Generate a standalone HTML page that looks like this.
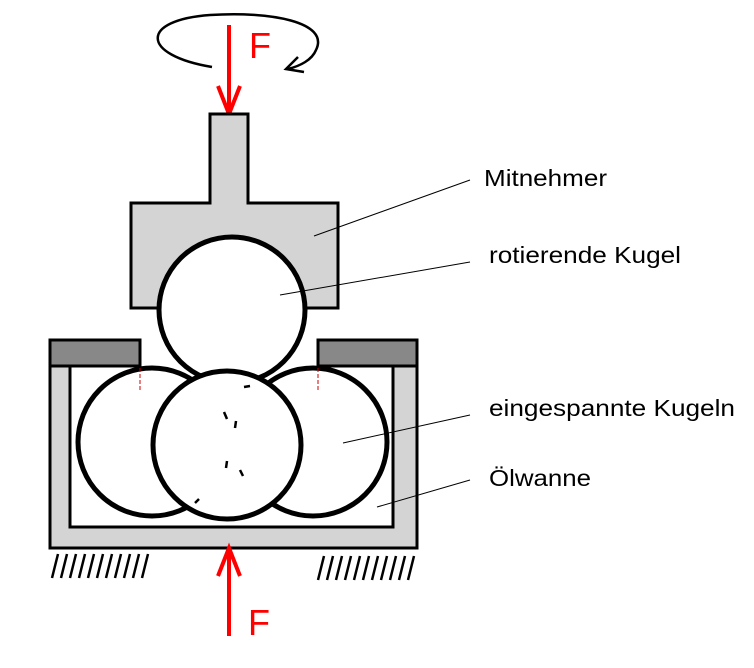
<!DOCTYPE html>
<html><head><style>body{margin:0;background:#fff}svg{display:block}</style></head>
<body>
<svg width="754" height="668" viewBox="0 0 754 668" xmlns="http://www.w3.org/2000/svg" font-family="Liberation Sans, sans-serif">
<!-- rotation -->
<path d="M212,67 C140,55 140,20 210,15 C270,11 330,22 316,50 C312,60 300,66 288,69" fill="none" stroke="#000" stroke-width="2.5"/>
<path d="M298,57 L286,69 L304,72" fill="none" stroke="#000" stroke-width="2.5"/>
<!-- top arrow -->
<line x1="229" y1="25" x2="229" y2="112" stroke="#f00" stroke-width="4"/>
<path d="M218,86 L229,114 L240,86" fill="none" stroke="#f00" stroke-width="4"/>
<text x="249" y="58" font-size="36" fill="#f00">F</text>
<!-- Mitnehmer -->
<path d="M210,114 L248,114 L248,203 L338,203 L338,308 L131,308 L131,203 L210,203 Z" fill="#d4d4d4" stroke="#000" stroke-width="3"/>
<!-- pan (U shape) -->
<path d="M50,340 L70,340 L70,527 L393,527 L393,340 L417,340 L417,548 L50,548 Z" fill="#d4d4d4" stroke="none"/>
<path d="M50,340 L50,548 L417,548 L417,340" fill="none" stroke="#000" stroke-width="3"/>
<path d="M70,366 L70,527 L393,527 L393,366" fill="none" stroke="#000" stroke-width="3"/>
<rect x="50" y="340" width="90" height="26" fill="#888" stroke="#000" stroke-width="3"/>
<rect x="318" y="340" width="99" height="26" fill="#888" stroke="#000" stroke-width="3"/>
<!-- balls -->
<circle cx="152" cy="442" r="74" fill="#fff" stroke="#000" stroke-width="5"/>
<circle cx="313" cy="442" r="74" fill="#fff" stroke="#000" stroke-width="5"/>
<circle cx="232" cy="310" r="73" fill="#fff" stroke="#000" stroke-width="5"/>
<circle cx="227" cy="445" r="74" fill="#fff" stroke="#000" stroke-width="5"/>
<line x1="140" y1="368" x2="140" y2="390" stroke="#c00" stroke-width="1" stroke-dasharray="4,2"/>
<line x1="318" y1="368" x2="318" y2="390" stroke="#c00" stroke-width="1" stroke-dasharray="4,2"/>
<g stroke="#000" stroke-width="2.5">
<line x1="224" y1="412" x2="227" y2="419"/><line x1="236" y1="421" x2="235" y2="428"/>
<line x1="227" y1="461" x2="226" y2="468"/><line x1="240" y1="470" x2="243" y2="476"/>
<line x1="244" y1="387" x2="250" y2="386"/><line x1="195" y1="503" x2="199" y2="499"/>
</g>
<!-- leaders -->
<g stroke="#000" stroke-width="1">
<line x1="314" y1="236" x2="470" y2="180"/>
<line x1="280" y1="295" x2="470" y2="262"/>
<line x1="343" y1="443" x2="470" y2="415"/>
<line x1="377" y1="507" x2="470" y2="480"/>
</g>
<g font-size="23" fill="#000">
<text x="484" y="186" textLength="123" lengthAdjust="spacingAndGlyphs">Mitnehmer</text>
<text x="489" y="263" textLength="192" lengthAdjust="spacingAndGlyphs">rotierende Kugel</text>
<text x="489" y="416" textLength="246" lengthAdjust="spacingAndGlyphs">eingespannte Kugeln</text>
<text x="489" y="486" textLength="102" lengthAdjust="spacingAndGlyphs">Ölwanne</text>
</g>
<!-- hatches -->
<g stroke="#000" stroke-width="2.5">
<path d="M52,578 L58,554 M61,578 L67,554 M70,578 L76,554 M79,578 L85,554 M88,578 L94,554 M97,578 L103,554 M106,578 L112,554 M115,578 L121,554 M124,578 L130,554 M133,578 L139,554 M142,578 L148,554"/>
<path d="M318,580 L324,556 M327,580 L333,556 M336,580 L342,556 M345,580 L351,556 M354,580 L360,556 M363,580 L369,556 M372,580 L378,556 M381,580 L387,556 M390,580 L396,556 M399,580 L405,556 M408,580 L414,556"/>
</g>
<!-- bottom arrow -->
<line x1="229" y1="550" x2="229" y2="636" stroke="#f00" stroke-width="4"/>
<path d="M218,576 L229,548 L240,576" fill="none" stroke="#f00" stroke-width="4"/>
<text x="248" y="635" font-size="36" fill="#f00">F</text>
</svg>
</body></html>
